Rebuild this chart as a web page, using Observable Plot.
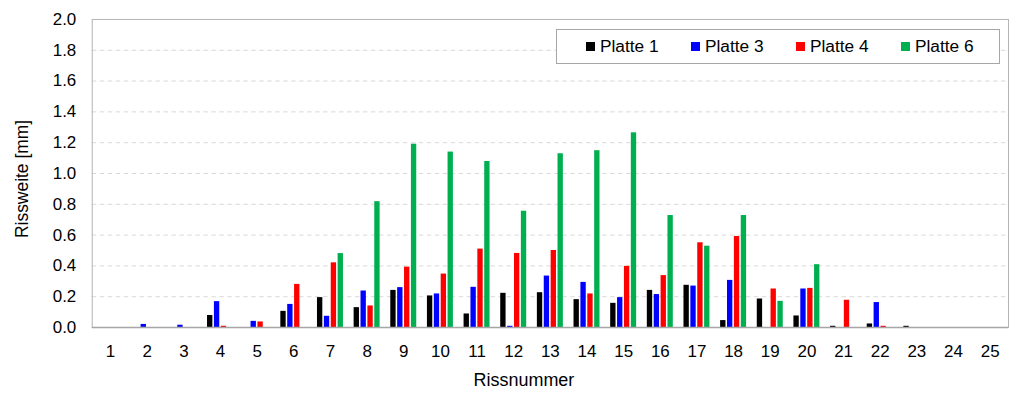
<!DOCTYPE html>
<html>
<head>
<meta charset="utf-8">
<script src="https://cdn.jsdelivr.net/npm/d3@7"></script>
<script src="https://cdn.jsdelivr.net/npm/@observablehq/plot@0.6"></script>
<style>
  html, body { margin: 0; padding: 0; background: #fff; overflow: hidden; }
  #wrap { position: relative; width: 1009px; height: 396px; overflow: hidden; font-family: "Liberation Sans", Arial, sans-serif; }
  #legend { position: absolute; left: 556px; top: 29px; width: 442px; height: 33px; border: 1px solid #a6a6a6; background: #fff; box-sizing: content-box; }
  .item { position: absolute; top: 0; height: 33px; display: flex; align-items: center; font-size: 17.3px; color: #000; white-space: nowrap; }
  .sw { width: 8.5px; height: 8.5px; margin-right: 5.5px; display: inline-block; }
</style>
</head>
<body>
<div id="wrap"></div>
<script>
const categories = ["1","2","3","4","5","6","7","8","9","10","11","12","13","14","15","16","17","18","19","20","21","22","23","24","25"];
const seriesNames = ["Platte 1", "Platte 3", "Platte 4", "Platte 6"];
const seriesColors = ["#000000", "#0000ff", "#ff0000", "#00b050"];
const platte1 = [0,0,0,0.078,0,0.105,0.194,0.129,0.241,0.205,0.088,0.222,0.226,0.181,0.157,0.241,0.274,0.045,0.185,0.075,0.008,0.023,0.008,0,0];
const platte3 = [0,0.02,0.015,0.168,0.04,0.15,0.073,0.237,0.259,0.218,0.261,0.008,0.334,0.293,0.194,0.214,0.269,0.306,0,0.25,0,0.162,0,0,0];
const platte4 = [0,0,0,0.008,0.036,0.28,0.42,0.14,0.392,0.347,0.509,0.481,0.5,0.218,0.397,0.337,0.55,0.591,0.25,0.254,0.177,0.008,0,0,0];
const platte6 = [0,0,0,0,0,0,0.48,0.817,1.19,1.139,1.078,0.755,1.128,1.148,1.264,0.727,0.528,0.727,0.17,0.408,0,0,0,0,0];
const yTicks = [0,0.2,0.4,0.6,0.8,1.0,1.2,1.4,1.6,1.8,2.0];
const gridTicks = [0.2,0.4,0.6,0.8,1.0,1.2,1.4,1.6,1.8];

const allSeries = [platte1, platte3, platte4, platte6];
const offsets = [-10.35, -3.45, 3.45, 10.35];
const inset = 15.7;

const barMarks = allSeries.map((vals, s) =>
  Plot.barY(categories.map((c, i) => ({cat: c, v: vals[i]})), {
    x: "cat", y: "v", fill: seriesColors[s], dx: offsets[s],
    insetLeft: inset, insetRight: inset
  })
);

const chart = Plot.plot({
  width: 1012,
  height: 396,
  marginTop: 19,
  marginBottom: 68,
  marginLeft: 92,
  marginRight: 1,
  style: {fontFamily: '"Liberation Sans", Arial, sans-serif', background: "#fff", color: "#000"},
  x: {domain: categories, padding: 0, round: false},
  y: {domain: [0, 2]},
  marks: [
    Plot.gridY(gridTicks, {stroke: "#d9d9d9", strokeOpacity: 1, strokeDasharray: "4.5,3.5", strokeWidth: 1}),
    Plot.frame({stroke: "#b3b3b3", strokeWidth: 1}),
    ...barMarks,
    Plot.ruleY([0], {stroke: "#a6a6a6", strokeWidth: 1.5}),
    Plot.axisY(yTicks, {tickSize: 0, tickPadding: 16, fontSize: 17, tickFormat: d3.format(".1f"), label: null, fill: "#000"}),
    Plot.axisX({tickSize: 0, tickPadding: 17, fontSize: 17, label: null, fill: "#000"}),
    Plot.text(["Rissweite [mm]"], {frameAnchor: "left", rotate: -90, dx: -70.3, dy: 5.5, fontSize: 17.5, textAnchor: "middle", fill: "#000"}),
    Plot.text(["Rissnummer"], {frameAnchor: "bottom", dx: -26.5, dy: 58.6, fontSize: 18, textAnchor: "middle", fill: "#000"})
  ]
});

const wrap = document.getElementById("wrap");
wrap.appendChild(chart);

const legend = document.createElement("div");
legend.id = "legend";
const legendLefts = [586, 691, 796, 901];
seriesNames.forEach((name, s) => {
  const item = document.createElement("div");
  item.className = "item";
  item.style.left = (legendLefts[s] - 557) + "px";
  const sw = document.createElement("span");
  sw.className = "sw";
  sw.style.background = seriesColors[s];
  item.appendChild(sw);
  item.appendChild(document.createTextNode(name));
  legend.appendChild(item);
});
wrap.appendChild(legend);
</script>
</body>
</html>
